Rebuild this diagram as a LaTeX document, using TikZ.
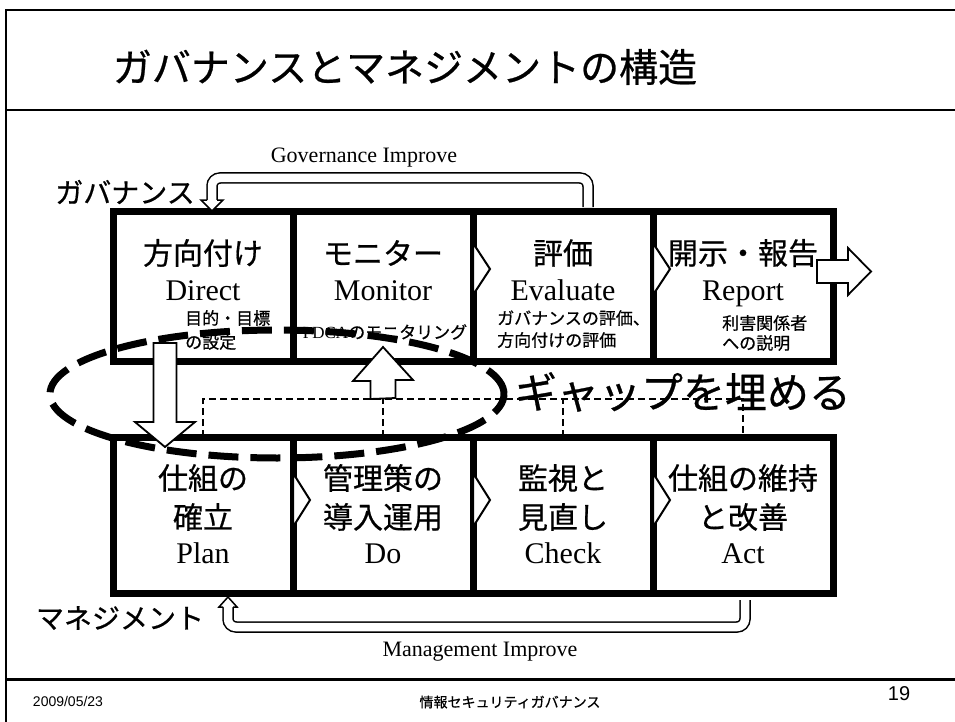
\documentclass[tikz,border=0pt]{standalone}
\usepackage{fontspec}
\setmainfont{Liberation Serif}
\newfontfamily\jpf[FakeBold=0.6]{Noto Sans CJK JP}
\newfontfamily\arialf{Liberation Sans}
\usetikzlibrary{calc}
\tikzset{
  frameline/.style={line width=2.5pt},
  cell/.style={draw, line width=7pt, minimum width=180pt, inner sep=0pt, outer sep=0pt},
  chev/.style={draw, fill=white, line width=2pt, line join=miter},
  barrow/.style={draw, fill=white, line width=1.8pt, line join=miter},
  uarrow/.style={line width=1.5pt, double=white, double distance=8.5pt, rounded corners=8pt},
  uhead/.style={draw, fill=white, line width=1.5pt, line join=miter},
  gapline/.style={line width=2pt, dash pattern=on 7pt off 4pt},
  gapoval/.style={line width=7pt, dash pattern=on 30pt off 12pt},
  jptitle/.style={inner sep=0pt, font=\jpf\fontsize{39}{46}\selectfont},
  jpside/.style={inner sep=0pt, font=\jpf\fontsize{28}{34}\selectfont},
  jpbig/.style={inner sep=0pt, font=\jpf\fontsize{30}{36}\selectfont},
  jpsmall/.style={inner sep=0pt, font=\jpf\fontsize{17}{20}\selectfont},
  jpgap/.style={inner sep=0pt, font=\jpf\fontsize{42}{50}\selectfont},
  enbig/.style={inner sep=0pt, anchor=base, font=\fontsize{30}{36}\selectfont},
  enmid/.style={inner sep=0pt, font=\fontsize{22}{26}\selectfont},
  foot/.style={inner sep=0pt, font=\arialf\fontsize{14}{17}\selectfont},
  jpfoot/.style={inner sep=0pt, font=\jpf\fontsize{14}{17}\selectfont},
}
\begin{document}
\begin{tikzpicture}[x=1pt,y=-1pt]
\useasboundingbox (0,0) rectangle (955,722);
% slide frame
\draw[frameline] (955,10) -- (6,10) -- (6,722);
\draw[frameline] (6,110) -- (955,110);
\draw[line width=3pt] (6,679) -- (955,679);
\node[jptitle] (ttl) at (405,67) {ガバナンスとマネジメントの構造};

% governance row
\node[cell, minimum height=150pt] (d) at (203,286) {};
\node[cell, minimum height=150pt] (m) at (383,286) {};
\node[cell, minimum height=150pt] (e) at (563,286) {};
\node[cell, minimum height=150pt] (r) at (743,286) {};
% management row
\node[cell, minimum height=156pt] (p) at (203,515) {};
\node[cell, minimum height=156pt] (o) at (383,515) {};
\node[cell, minimum height=156pt] (c) at (563,515) {};
\node[cell, minimum height=156pt] (a) at (743,515) {};

% chevrons
\draw[chev] ([yshift=17pt]m.east) -- ++(0,-26) -- ++(17,26) -- ++(-17,26) -- cycle;
\draw[chev] ([yshift=17pt]e.east) -- ++(0,-26) -- ++(17,26) -- ++(-17,26) -- cycle;
\draw[chev] ([yshift=15pt]p.east) -- ++(0,-27) -- ++(17,27) -- ++(-17,27) -- cycle;
\draw[chev] ([yshift=15pt]o.east) -- ++(0,-27) -- ++(17,27) -- ++(-17,27) -- cycle;
\draw[chev] ([yshift=15pt]c.east) -- ++(0,-27) -- ++(17,27) -- ++(-17,27) -- cycle;

% gap dashed lines
\coordinate (gl) at (0,399);
\draw[gapline] (p.north) -- (p.north |- gl) -- (a.north |- gl) -- (a.north);
\draw[gapline] (o.north) -- (o.north |- gl);
\draw[gapline] (c.north) -- (c.north |- gl);

% texts governance
\node[jpbig] (t1) at (203,253) {方向付け};
\node[enbig] (t2) at (203,300) {Direct};
\node[jpsmall, anchor=west] (t3) at (185,318) {目的・目標};
\node[jpsmall, anchor=west] (t4) at (185,342) {の設定};
\node[jpbig] (t5) at (383,253) {モニター};
\node[enbig] (t6) at (383,300) {Monitor};
\node[jpsmall] (t7) at (385,332) {{\rmfamily PDCA}のモニタリング};
\node[jpbig] (t8) at (563,253) {評価};
\node[enbig] (t9) at (563,300) {Evaluate};
\node[jpsmall, anchor=west] (t10) at (497,318) {ガバナンスの評価、};
\node[jpsmall, anchor=west] (t11) at (497,340) {方向付けの評価};
\node[jpbig] (t12) at (743,253) {開示・報告};
\node[enbig] (t13) at (743,300) {Report};
\node[jpsmall, anchor=west] (t14) at (722,323) {利害関係者};
\node[jpsmall, anchor=west] (t15) at (722,343) {への説明};

% texts management
\node[jpbig] (u1) at (203,478) {仕組の};
\node[jpbig] (u2) at (203,517) {確立};
\node[enbig] (u3) at (203,563) {Plan};
\node[jpbig] (u4) at (383,478) {管理策の};
\node[jpbig] (u5) at (383,517) {導入運用};
\node[enbig] (u6) at (383,563) {Do};
\node[jpbig] (u7) at (563,478) {監視と};
\node[jpbig] (u8) at (563,517) {見直し};
\node[enbig] (u9) at (563,563) {Check};
\node[jpbig] (u10) at (743,478) {仕組の維持};
\node[jpbig] (u11) at (743,517) {と改善};
\node[enbig] (u12) at (743,563) {Act};

% side labels
\node[jpside] (gov) at (125,192) {ガバナンス};
\node[jpside] (mgt) at (120,618) {マネジメント};
\node[enmid] (gimp) at (364,158) {Governance Improve};
\node[enmid] (mimp) at (480,652) {Management Improve};
\node[jpgap] (gap) at (683,392) {ギャップを埋める};

% footer
\node[foot] (date) at (68,701) {2009/05/23};
\node[jpfoot] (ftitle) at (510,702) {情報セキュリティガバナンス};
\node[inner sep=0pt, font=\arialf\fontsize{20}{24}\selectfont] (pg) at (899,694) {19};

% block arrows
\coordinate (dtail) at (165,343);
\coordinate (dtip) at (165,447);
\draw[barrow] ([xshift=-11.5pt]dtail) -- ++(0,79) -- ++(-18.5,0) -- (dtip) -- ++(30,-25) -- ++(-18.5,0) -- ++(0,-79) -- cycle;
\coordinate (utail) at (o.north |- gl);
\coordinate (utip) at (383,347);
\draw[barrow] ([xshift=-12.5pt]utail) -- ++(0,-18) -- ++(-17.5,0) -- (utip) -- ++(30,33) -- ++(-17.5,0) -- ++(0,18) -- cycle;
\coordinate (rtail) at (817,271.5);
\coordinate (rtip) at (871,271.5);
\draw[barrow] ([yshift=11.5pt]rtail) -- ++(31,0) -- ++(0,-12) -- (rtip) -- ++(-23,23.5) -- ++(0,-12) -- ++(-31,0) -- cycle;

% governance improve U-arrow
\coordinate (gtail) at (588,207);
\coordinate (gtop) at (0,178);
\coordinate (gtip) at (212,211);
\coordinate (ghb) at (212,200);
\draw[uarrow] (gtail) -- (gtail |- gtop) -- (gtip |- gtop) -- (ghb);
\draw[uhead] ([xshift=-5pt]ghb) -- ([xshift=-11pt]ghb) -- (gtip) -- ([xshift=11pt]ghb) -- ([xshift=5pt]ghb);

% management improve U-arrow
\coordinate (mtail) at (745,600);
\coordinate (mbot) at (0,627);
\coordinate (mtip) at (228,597);
\coordinate (mhb) at (228,607);
\draw[uarrow] (mtail) -- (mtail |- mbot) -- (mtip |- mbot) -- (mhb);
\draw[uhead] ([xshift=-5pt]mhb) -- ([xshift=-9pt]mhb) -- (mtip) -- ([xshift=9pt]mhb) -- ([xshift=5pt]mhb);

% gap ellipse
\draw[gapoval] (277,394) ellipse [x radius=227pt, y radius=64pt];
\end{tikzpicture}
\end{document}
